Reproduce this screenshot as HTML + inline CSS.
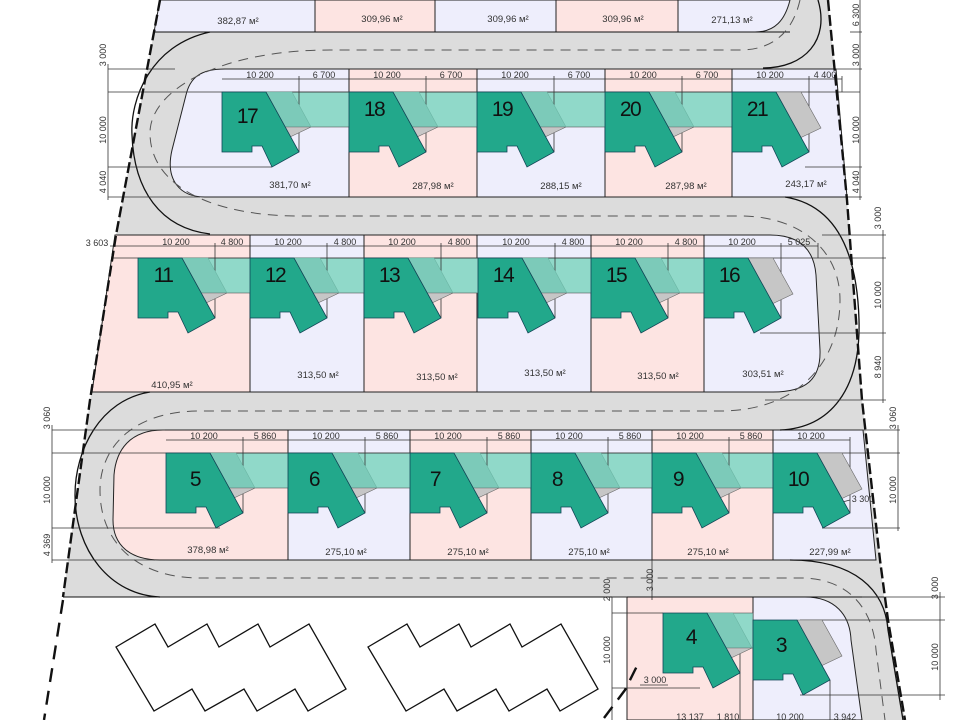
<!DOCTYPE html>
<html><head><meta charset="utf-8">
<style>
html,body{margin:0;padding:0;background:#fff;}
svg{display:block;}
.d{font-family:"Liberation Sans",sans-serif;font-size:9px;fill:#333;text-anchor:middle;}
.a{font-family:"Liberation Sans",sans-serif;font-size:9.5px;fill:#333;text-anchor:middle;}
.n{font-family:"Liberation Sans",sans-serif;font-size:21px;fill:#111;text-anchor:middle;letter-spacing:-1.5px;}
.l{stroke:#333;stroke-width:0.8;fill:none;}
.lot{stroke:#222;stroke-width:1;}
.lv{fill:#eeeefc;}
.pk{fill:#fde4e2;}
</style></head>
<body>
<svg width="960" height="720" viewBox="0 0 960 720" xmlns="http://www.w3.org/2000/svg">
<defs>
<g id="hs">
  <polygon points="44,0 70,0 89,35 63,35" fill="#7ccab9" stroke="#6bb5a4" stroke-width="0.6"/>
  <polygon points="63,35 89,35 68,45" fill="#c6c6c6" stroke="#666" stroke-width="0.6"/>
  <polygon points="0,0 44,0 77,60 50,75 40,54 30,54 30,60 0,60" fill="#22a88b" stroke="#145" stroke-width="0.8"/>
</g>
<g id="hl">
  <polygon points="44,0 69,0 89,36 68,46" fill="#c6c6c6" stroke="#666" stroke-width="0.6"/>
  <polygon points="0,0 44,0 77,60 50,75 40,54 30,54 30,60 0,60" fill="#22a88b" stroke="#145" stroke-width="0.8"/>
</g>
</defs>

<!-- road gray areas -->
<polygon points="160,0 828,0 847,200 862,400 880,560 884,597 63,597 90,400 116,235" fill="#dcdcdc"/>
<polygon points="790,597 884,597 888,620 905,720 850,720" fill="#dcdcdc"/>

<!-- top row lots -->
<polygon class="lot lv" points="160,0 315,0 315,32 154,32"/>
<rect class="lot pk" x="315" y="0" width="120" height="32"/>
<rect class="lot lv" x="435" y="0" width="121" height="32"/>
<rect class="lot pk" x="556" y="0" width="122" height="32"/>
<path class="lot lv" d="M678,0 L790,0 C785,20 775,32 755,32 L678,32 Z"/>

<!-- block A -->
<path class="lot lv" d="M225,69 L349,69 L349,197 L205,197 C180,197 165,180 172,150 L186,95 C190,78 200,69 225,69 Z"/>
<rect class="lot pk" x="349" y="69" width="128" height="128"/>
<rect class="lot lv" x="477" y="69" width="128" height="128"/>
<rect class="lot pk" x="605" y="69" width="127" height="128"/>
<polygon class="lot lv" points="732,69 836,69 847,197 732,197"/>

<!-- block B -->
<polygon class="lot pk" points="115,235 250,235 250,392 92,392"/>
<rect class="lot lv" x="250" y="235" width="114" height="157"/>
<rect class="lot pk" x="364" y="235" width="113" height="157"/>
<rect class="lot lv" x="477" y="235" width="114" height="157"/>
<rect class="lot pk" x="591" y="235" width="113" height="157"/>
<path class="lot lv" d="M704,235 L770,235 C800,235 814,250 816,275 L820,350 C821,380 805,392 773,392 L704,392 Z"/>

<!-- block C -->
<path class="lot pk" d="M163,430 L288,430 L288,560 L160,560 C130,560 113,545 113,520 L114,475 C116,450 130,430 163,430 Z"/>
<rect class="lot lv" x="288" y="430" width="122" height="130"/>
<rect class="lot pk" x="410" y="430" width="121" height="130"/>
<rect class="lot lv" x="531" y="430" width="121" height="130"/>
<rect class="lot pk" x="652" y="430" width="121" height="130"/>
<polygon class="lot lv" points="773,430 863,430 876,560 773,560"/>

<!-- bottom lots -->
<polygon class="lot pk" points="627,597 753,597 753,720 627,720"/>
<path class="lot lv" d="M753,597 L805,597 C835,597 850,615 851,640 L862,720 L753,720 Z"/>

<!-- road edges -->
<g fill="none" stroke="#111" stroke-width="1.3">
<path d="M763,68 C805,68 830,40 818,0"/>
<path d="M210,32 C150,45 130,100 132,135 C134,190 160,228 210,234"/>
<path d="M785,197 C835,205 857,250 859,320 C861,390 830,428 780,430"/>
<path d="M150,392 C100,400 75,450 75,495 C75,550 110,595 160,597"/>
<path d="M790,560 C855,560 885,590 888,630 L903,720"/>
<line x1="63" y1="597" x2="884" y2="597" stroke-width="1"/>
<line x1="154" y1="32" x2="790" y2="32" stroke-width="1"/>
</g>

<!-- dashed centerlines -->
<path d="M800,0 C792,35 770,50 740,50 L330,50 C220,50 150,90 150,133 C150,185 210,216 300,216 L740,216 C800,216 840,250 840,300 C840,360 800,411 720,411 L200,411 C130,411 100,450 100,490 C100,545 140,578 200,578 L800,578 C850,578 873,610 876,650 L885,720" fill="none" stroke="#555" stroke-width="1" stroke-dasharray="10 7"/>

<!-- bands -->
<rect x="266" y="92" width="466" height="35" fill="#90d9c9" stroke="#555" stroke-width="0.6"/>
<rect x="182" y="258" width="522" height="35" fill="#90d9c9" stroke="#555" stroke-width="0.6"/>
<rect x="210" y="453" width="563" height="35" fill="#90d9c9" stroke="#555" stroke-width="0.6"/>
<rect x="707" y="613" width="46" height="35" fill="#90d9c9" stroke="#555" stroke-width="0.6"/>

<!-- dimension helper lines -->
<g class="l">
<line x1="108" y1="69" x2="175" y2="69"/><line x1="108" y1="92" x2="860" y2="92"/><line x1="108" y1="167" x2="272" y2="167"/><line x1="108" y1="197" x2="200" y2="197"/>
<line x1="108" y1="64" x2="108" y2="200"/>
<line x1="805" y1="167" x2="862" y2="167"/><line x1="836" y1="69" x2="862" y2="69"/><line x1="850" y1="32" x2="862" y2="32"/><line x1="847" y1="197" x2="862" y2="197"/>
<line x1="860" y1="0" x2="860" y2="200"/>
<line x1="112" y1="258" x2="886" y2="258"/><line x1="822" y1="235" x2="886" y2="235"/><line x1="760" y1="333" x2="886" y2="333"/><line x1="765" y1="400" x2="886" y2="400"/>
<line x1="883" y1="230" x2="883" y2="403"/>
<line x1="52" y1="453" x2="900" y2="453"/><line x1="52" y1="430" x2="165" y2="430"/><line x1="52" y1="528" x2="220" y2="528"/><line x1="52" y1="560" x2="155" y2="560"/>
<line x1="52" y1="425" x2="52" y2="563"/>
<line x1="840" y1="430" x2="900" y2="430"/><line x1="822" y1="528" x2="900" y2="528"/>
<line x1="898" y1="425" x2="898" y2="531"/>
<line x1="820" y1="508" x2="850" y2="500"/>
<line x1="652" y1="560" x2="652" y2="600"/>
<line x1="612" y1="597" x2="612" y2="720"/><line x1="612" y1="613" x2="663" y2="613"/><line x1="612" y1="688" x2="700" y2="688"/><line x1="612" y1="597" x2="627" y2="597"/>
<line x1="640" y1="685" x2="668" y2="685"/>
<line x1="740" y1="648" x2="740" y2="720"/><line x1="830" y1="680" x2="830" y2="720"/>
<line x1="862" y1="597" x2="945" y2="597"/><line x1="800" y1="620" x2="945" y2="620"/><line x1="800" y1="695" x2="945" y2="695"/>
<line x1="940" y1="592" x2="940" y2="700"/>
<!-- top dims row A -->
<line x1="222" y1="79" x2="349" y2="79"/><line x1="299" y1="76" x2="299" y2="152"/>
<line x1="349" y1="79" x2="477" y2="79"/><line x1="426" y1="76" x2="426" y2="152"/>
<line x1="477" y1="79" x2="605" y2="79"/><line x1="554" y1="76" x2="554" y2="152"/>
<line x1="605" y1="79" x2="732" y2="79"/><line x1="682" y1="76" x2="682" y2="152"/>
<line x1="732" y1="79" x2="842" y2="79"/><line x1="809" y1="76" x2="809" y2="152"/><line x1="842" y1="76" x2="842" y2="92"/>
<!-- row B -->
<line x1="110" y1="246" x2="250" y2="246"/><line x1="215" y1="243" x2="215" y2="318"/>
<line x1="250" y1="246" x2="364" y2="246"/><line x1="327" y1="243" x2="327" y2="318"/>
<line x1="364" y1="246" x2="478" y2="246"/><line x1="441" y1="243" x2="441" y2="318"/>
<line x1="478" y1="246" x2="591" y2="246"/><line x1="555" y1="243" x2="555" y2="318"/>
<line x1="591" y1="246" x2="704" y2="246"/><line x1="668" y1="243" x2="668" y2="318"/>
<line x1="704" y1="246" x2="818" y2="246"/><line x1="781" y1="243" x2="781" y2="318"/><line x1="818" y1="243" x2="818" y2="258"/>
<!-- row C -->
<line x1="166" y1="440" x2="288" y2="440"/><line x1="243" y1="437" x2="243" y2="513"/>
<line x1="288" y1="440" x2="410" y2="440"/><line x1="365" y1="437" x2="365" y2="513"/>
<line x1="410" y1="440" x2="531" y2="440"/><line x1="487" y1="437" x2="487" y2="513"/>
<line x1="531" y1="440" x2="652" y2="440"/><line x1="608" y1="437" x2="608" y2="513"/>
<line x1="652" y1="440" x2="773" y2="440"/><line x1="729" y1="437" x2="729" y2="513"/>
<line x1="773" y1="440" x2="850" y2="440"/><line x1="850" y1="437" x2="850" y2="513"/>
</g>

<!-- houses -->
<use href="#hs" x="222" y="92"/><use href="#hs" x="349" y="92"/><use href="#hs" x="477" y="92"/><use href="#hs" x="605" y="92"/><use href="#hl" x="732" y="92"/>
<use href="#hs" x="138" y="258"/><use href="#hs" x="250" y="258"/><use href="#hs" x="364" y="258"/><use href="#hs" x="478" y="258"/><use href="#hs" x="591" y="258"/><use href="#hl" x="704" y="258"/>
<use href="#hs" x="166" y="453"/><use href="#hs" x="288" y="453"/><use href="#hs" x="410" y="453"/><use href="#hs" x="531" y="453"/><use href="#hs" x="652" y="453"/><use href="#hl" x="773" y="453"/>
<use href="#hs" x="663" y="613"/><use href="#hl" x="753" y="620"/>

<!-- house numbers -->
<text class="n" x="247" y="123">17</text><text class="n" x="374" y="116">18</text><text class="n" x="502" y="116">19</text><text class="n" x="630" y="116">20</text><text class="n" x="757" y="116">21</text>
<text class="n" x="163" y="282">11</text><text class="n" x="275" y="282">12</text><text class="n" x="389" y="282">13</text><text class="n" x="503" y="282">14</text><text class="n" x="616" y="282">15</text><text class="n" x="729" y="282">16</text>
<text class="n" x="195" y="486">5</text><text class="n" x="314" y="486">6</text><text class="n" x="435" y="486">7</text><text class="n" x="557" y="486">8</text><text class="n" x="678" y="486">9</text><text class="n" x="798" y="486">10</text>
<text class="n" x="691" y="644">4</text><text class="n" x="781" y="652">3</text>

<!-- area labels -->
<text class="a" x="238" y="24">382,87 м²</text><text class="a" x="382" y="22">309,96 м²</text><text class="a" x="508" y="22">309,96 м²</text><text class="a" x="623" y="22">309,96 м²</text><text class="a" x="732" y="23">271,13 м²</text>
<text class="a" x="290" y="188">381,70 м²</text><text class="a" x="433" y="189">287,98 м²</text><text class="a" x="561" y="189">288,15 м²</text><text class="a" x="686" y="189">287,98 м²</text><text class="a" x="806" y="187">243,17 м²</text>
<text class="a" x="172" y="388">410,95 м²</text><text class="a" x="318" y="378">313,50 м²</text><text class="a" x="437" y="380">313,50 м²</text><text class="a" x="545" y="376">313,50 м²</text><text class="a" x="658" y="379">313,50 м²</text><text class="a" x="763" y="377">303,51 м²</text>
<text class="a" x="208" y="553">378,98 м²</text><text class="a" x="346" y="555">275,10 м²</text><text class="a" x="468" y="555">275,10 м²</text><text class="a" x="589" y="555">275,10 м²</text><text class="a" x="708" y="555">275,10 м²</text><text class="a" x="830" y="555">227,99 м²</text>

<!-- dims text -->
<text class="d" x="260" y="78">10 200</text><text class="d" x="324" y="78">6 700</text>
<text class="d" x="387" y="78">10 200</text><text class="d" x="451" y="78">6 700</text>
<text class="d" x="515" y="78">10 200</text><text class="d" x="579" y="78">6 700</text>
<text class="d" x="643" y="78">10 200</text><text class="d" x="707" y="78">6 700</text>
<text class="d" x="770" y="78">10 200</text><text class="d" x="825" y="78">4 400</text>
<text class="d" x="176" y="245">10 200</text><text class="d" x="232" y="245">4 800</text>
<text class="d" x="288" y="245">10 200</text><text class="d" x="345" y="245">4 800</text>
<text class="d" x="402" y="245">10 200</text><text class="d" x="459" y="245">4 800</text>
<text class="d" x="516" y="245">10 200</text><text class="d" x="573" y="245">4 800</text>
<text class="d" x="629" y="245">10 200</text><text class="d" x="686" y="245">4 800</text>
<text class="d" x="742" y="245">10 200</text><text class="d" x="799" y="245">5 025</text>
<text class="d" x="97" y="246">3 603</text>
<text class="d" x="204" y="439">10 200</text><text class="d" x="265" y="439">5 860</text>
<text class="d" x="326" y="439">10 200</text><text class="d" x="387" y="439">5 860</text>
<text class="d" x="448" y="439">10 200</text><text class="d" x="509" y="439">5 860</text>
<text class="d" x="569" y="439">10 200</text><text class="d" x="630" y="439">5 860</text>
<text class="d" x="690" y="439">10 200</text><text class="d" x="751" y="439">5 860</text>
<text class="d" x="811" y="439">10 200</text>
<text class="d" x="863" y="502">3 300</text>
<text class="d" x="655" y="683">3 000</text>
<text class="d" x="690" y="720">13 137</text><text class="d" x="728" y="720">1 810</text><text class="d" x="790" y="720">10 200</text><text class="d" x="845" y="720">3 942</text>
<!-- rotated -->
<g class="d">
<text transform="translate(106,55) rotate(-90)">3 000</text>
<text transform="translate(106,130) rotate(-90)">10 000</text>
<text transform="translate(106,182) rotate(-90)">4 040</text>
<text transform="translate(859,15) rotate(-90)">6 300</text>
<text transform="translate(859,55) rotate(-90)">3 000</text>
<text transform="translate(859,130) rotate(-90)">10 000</text>
<text transform="translate(859,182) rotate(-90)">4 040</text>
<text transform="translate(881,218) rotate(-90)">3 000</text>
<text transform="translate(881,295) rotate(-90)">10 000</text>
<text transform="translate(881,367) rotate(-90)">8 940</text>
<text transform="translate(896,418) rotate(-90)">3 060</text>
<text transform="translate(896,490) rotate(-90)">10 000</text>
<text transform="translate(50,418) rotate(-90)">3 060</text>
<text transform="translate(50,490) rotate(-90)">10 000</text>
<text transform="translate(50,545) rotate(-90)">4 369</text>
<text transform="translate(653,580) rotate(-90)">3 000</text>
<text transform="translate(610,590) rotate(-90)">2 000</text>
<text transform="translate(610,650) rotate(-90)">10 000</text>
<text transform="translate(938,588) rotate(-90)">3 000</text>
<text transform="translate(938,657) rotate(-90)">10 000</text>
</g>

<!-- white buildings -->
<polygon points="116,647 155,624 168,647 207,624 219,647 258,624 270,647 309,624 346,689 308,711 295,689 257,711 244,689 205,711 192,689 154,711" fill="#fff" stroke="#111" stroke-width="1.3"/>
<polygon points="368,647 407,624 420,647 459,624 471,647 510,624 522,647 561,624 598,689 560,711 547,689 509,711 496,689 457,711 444,689 406,711" fill="#fff" stroke="#111" stroke-width="1.3"/>

<!-- boundaries -->
<g fill="none" stroke="#111" stroke-width="2.4" stroke-dasharray="11 4">
<polyline points="160,0 116,235 90,400 63,597"/>
<polyline points="828,0 847,200 862,400 880,560 888,620 905,720"/>
</g>
<g fill="none" stroke="#111" stroke-width="2.4" stroke-dasharray="14 9">
<line x1="63" y1="600" x2="44" y2="720"/>
<polyline points="604,718 625,690 640,660"/>
</g>
</svg>
</body></html>
